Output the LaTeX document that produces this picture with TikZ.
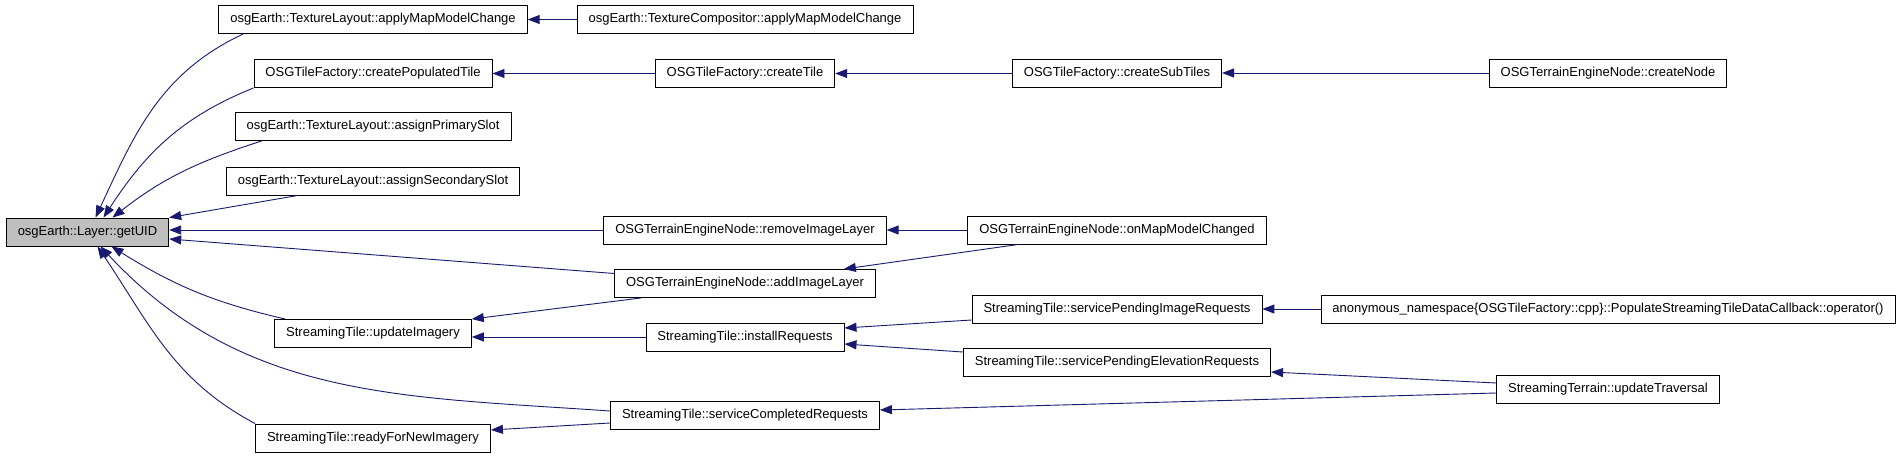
\documentclass[tikz,border=0pt]{standalone}
\usepackage{fontspec}
\setmainfont{Liberation Sans}
\usepackage{xcolor}
\usetikzlibrary{arrows.meta}

\definecolor{edgeblue}{HTML}{191970}
\definecolor{hitgray}{HTML}{BFBFBF}

\tikzset{
  fn/.style={draw=black, line width=0.9pt, fill=white, rectangle, minimum height=28pt,
    inner xsep=11.5pt, inner ysep=0pt, font=\fontsize{13}{15}\selectfont},
  calls/.style={draw=edgeblue, line width=0.9pt, -{Triangle[length=12pt,width=9pt]}},
}

\begin{document}
\begin{tikzpicture}[x=1pt, y=1pt]
    \useasboundingbox[fill=white] (0,0) rectangle (1901,459);
    % 被调用的函数
    \node[fn, fill=hitgray] (getuid) at (87.5,227) {osgEarth::Layer::getUID};
    % 第二列
    \node[fn] (tlapply) at (373,439.5) {osgEarth::TextureLayout::applyMapModelChange};
    \node[fn] (cpop) at (373,385.5) {OSGTileFactory::createPopulatedTile};
    \node[fn] (aprim) at (373,332.5) {osgEarth::TextureLayout::assignPrimarySlot};
    \node[fn] (asec) at (373,278) {osgEarth::TextureLayout::assignSecondarySlot};
    \node[fn] (upd) at (373,125.5) {StreamingTile::updateImagery};
    \node[fn] (ready) at (373,21) {StreamingTile::readyForNewImagery};
    % 第三列
    \node[fn] (tcapply) at (745,439.5) {osgEarth::TextureCompositor::applyMapModelChange};
    \node[fn] (ctile) at (745,385.5) {OSGTileFactory::createTile};
    \node[fn] (rem) at (745,229) {OSGTerrainEngineNode::removeImageLayer};
    \node[fn] (addimg) at (745,175.5) {OSGTerrainEngineNode::addImageLayer};
    \node[fn] (inst) at (745,122) {StreamingTile::installRequests};
    \node[fn] (scomp) at (745,44) {StreamingTile::serviceCompletedRequests};
    % 第四列
    \node[fn] (csub) at (1117,385.5) {OSGTileFactory::createSubTiles};
    \node[fn] (onmap) at (1117,229) {OSGTerrainEngineNode::onMapModelChanged};
    \node[fn] (spimg) at (1117,150) {StreamingTile::servicePendingImageRequests};
    \node[fn] (spelev) at (1117,97) {StreamingTile::servicePendingElevationRequests};
    % 第五列
    \node[fn] (cnode) at (1608,386) {OSGTerrainEngineNode::createNode};
    \node[fn] (anon) at (1608,150) {anonymous\_namespace\{OSGTileFactory::cpp\}::PopulateStreamingTileDataCallback::operator()};
    \node[fn] (utrav) at (1608,70) {StreamingTerrain::updateTraversal};

    % 指向 getUID 的调用
    \draw[calls] ([xshift=25pt]tlapply.south west) to[out=205, in=65] ([xshift=8pt]getuid.north);
    \draw[calls] (cpop.south west) to[out=202, in=57] ([xshift=16pt]getuid.north);
    \draw[calls] ([xshift=27pt]aprim.south west) to[out=198, in=38] ([xshift=25pt]getuid.north);
    \draw[calls] ([xshift=72pt]asec.south west) -- (getuid.north east);
    \draw[calls] (rem.west) -- (rem.west -| getuid.east);
    \draw[calls] ([yshift=10pt]addimg.west) -- ([yshift=-7pt]getuid.east);
    \draw[calls] ([xshift=11pt]upd.north west) to[out=167, in=-32] ([xshift=24pt]getuid.south);
    \draw[calls] ([yshift=4pt]scomp.west) to[out=176, in=-47] ([xshift=13pt]getuid.south);
    \draw[calls] (ready.north west) to[out=152, in=-56] ([xshift=10pt]getuid.south);

    % 其余调用
    \draw[calls] (tcapply.west) -- (tlapply.east);
    \draw[calls] (ctile.west) -- (cpop.east);
    \draw[calls] (csub.west) -- (ctile.east);
    \draw[calls] (cnode.west) -- (cnode.west -| csub.east);
    \draw[calls] (onmap.west) -- (rem.east);
    \draw[calls] ([xshift=51pt]onmap.south west) -- ([xshift=-32pt]addimg.north east);
    \draw[calls] ([xshift=27pt]addimg.south west) -- (upd.north east);
    \draw[calls] (inst.west) -- (inst.west -| upd.east);
    \draw[calls] ([yshift=-11pt]spimg.west) -- ([yshift=9pt]inst.east);
    \draw[calls] ([yshift=10pt]spelev.west) -- ([yshift=-7pt]inst.east);
    \draw[calls] (anon.west) -- (spimg.east);
    \draw[calls] ([yshift=6pt]utrav.west) -- ([yshift=-10pt]spelev.east);
    \draw[calls] ([yshift=-4pt]utrav.west) -- ([yshift=5pt]scomp.east);
    \draw[calls] ([yshift=-8pt]scomp.west) -- ([yshift=8pt]ready.east);
\end{tikzpicture}
\end{document}
